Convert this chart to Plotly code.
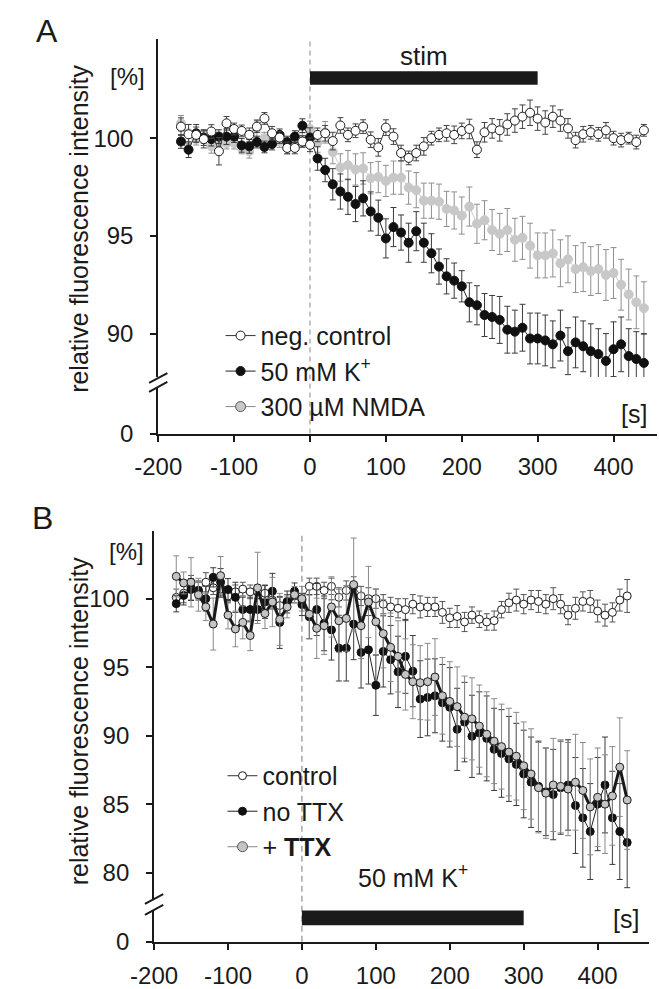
import numpy as np
import plotly.graph_objects as go

# time grid (s), same for every series
t = list(range(-170, 450, 10))

# ---- panel A: relative fluorescence [%]
a_ctrl = [100.59, 100.2, 100.17, 99.95, 100.34, 99.33, 100.76, 100.47, 100.37, 100.17, 100.59, 101.01, 100.25, 100.03, 99.5, 99.5, 99.83,
          99.66, 100.17, 100.25, 99.85, 100.65, 100.17, 100.38, 100.59, 99.92, 99.53, 100.54, 100.08, 99.24, 98.99, 99.24, 99.58, 100.0,
          100.17, 100.25, 100.17, 100.37, 100.47, 99.41, 100.3, 100.5, 100.4, 100.7, 100.9, 101.1, 101.3, 101.0, 100.8, 101.1, 100.9,
          100.5, 99.9, 100.2, 100.3, 100.2, 100.4, 100.0, 99.9, 100.0, 99.8, 100.4]
a_ctrl_err = [0.45, 0.5, 0.4, 0.45, 0.35, 0.7, 0.35, 0.3, 0.3, 0.35, 0.3, 0.3, 0.35, 0.3, 0.3, 0.3, 0.3,
              0.35, 0.35, 0.4, 0.45, 0.4, 0.35, 0.35, 0.35, 0.4, 0.45, 0.4, 0.4, 0.4, 0.35, 0.4, 0.45, 0.35, 0.35, 0.4, 0.45,
              0.4, 0.5, 0.4, 0.5, 0.5, 0.55, 0.55, 0.6, 0.6, 0.65, 0.6, 0.6, 0.55, 0.55, 0.5, 0.4, 0.4, 0.35, 0.35, 0.4,
              0.35, 0.35, 0.3, 0.35, 0.3]
a_k = [99.83, 99.41, 100.25, 100.03, 99.95, 100.08, 100.08, 100.08, 99.63, 99.58, 99.8, 99.55, 99.7, 100.17, 99.8, 100.08, 100.64,
       100.03, 98.96, 98.37, 97.64, 97.27, 97.0, 96.63, 96.92, 96.25, 95.93, 94.87, 95.45, 95.17, 94.65, 95.24, 94.65, 94.11,
       93.43, 92.93, 92.71, 92.42, 91.6, 91.45, 90.95, 90.85, 90.7, 90.2, 90.1, 90.3, 89.75, 89.75, 89.65, 89.45, 89.9,
       89.1, 89.55, 89.35, 89.1, 88.95, 88.6, 89.2, 89.45, 88.85, 88.7, 88.5]
a_k_err = [0.35, 0.4, 0.45, 0.4, 0.35, 0.35, 0.4, 0.3, 0.35, 0.35, 0.3, 0.3, 0.3, 0.3, 0.3, 0.3, 0.35,
           0.5, 0.6, 0.6, 0.8, 0.9, 0.9, 0.9, 0.9, 1.0, 0.9, 1.0, 1.0, 0.9, 1.0, 1.0, 1.0, 1.0, 0.9, 0.9, 0.9,
           0.8, 1.0, 1.0, 1.1, 1.1, 1.2, 1.2, 1.1, 1.2, 1.3, 1.3, 1.3, 1.2, 1.3, 1.2, 1.3, 1.3, 1.4, 1.3, 1.4,
           1.4, 1.4, 1.4, 1.4, 1.5]
a_nmda = [100.76, 100.25, 100.0, 100.03, 99.58, 99.66, 99.75, 99.75, 99.5, 99.33, 100.5, 100.0, 99.83, 99.83, 99.5, 99.7, 99.92,
          100.47, 99.78, 100.3, 99.29, 98.5, 98.62, 98.4, 98.45, 97.95, 98.01, 97.81, 97.98, 97.98, 97.47, 97.34, 96.8, 96.8,
          96.75, 96.38, 96.3, 96.04, 96.5, 95.62, 95.8, 95.3, 95.1, 95.3, 94.8, 94.9, 94.5, 94.0, 94.0, 94.1, 93.6,
          93.8, 93.3, 93.4, 93.2, 93.3, 93.0, 93.1, 92.5, 92.0, 91.6, 91.3]
a_nmda_err = [0.4, 0.45, 0.35, 0.3, 0.35, 0.35, 0.3, 0.3, 0.3, 0.35, 0.45, 0.3, 0.3, 0.3, 0.3, 0.3, 0.35,
              0.4, 0.5, 0.55, 0.6, 0.7, 0.75, 0.8, 0.8, 0.8, 0.8, 0.8, 0.85, 0.85, 0.85, 0.9, 0.9, 0.9, 0.9, 0.9, 0.95,
              0.95, 1.0, 1.0, 1.0, 1.05, 1.05, 1.1, 1.1, 1.1, 1.15, 1.15, 1.15, 1.2, 1.2, 1.2, 1.2, 1.25, 1.25, 1.25, 1.3,
              1.3, 1.3, 1.3, 1.35, 1.35]

# ---- panel B
b_ctrl = [100.1, 100.4, 100.8, 100.6, 101.2, 100.8, 100.7, 100.2, 100.5, 100.7, 100.5, 100.5, 100.4, 99.9, 99.5, 99.8, 100.2,
          99.9, 100.9, 100.9, 100.6, 100.9, 100.1, 100.6, 100.9, 100.2, 100.0, 100.0, 99.6, 99.4, 99.3, 99.2, 99.6, 99.4,
          99.4, 99.4, 99.0, 98.6, 98.7, 98.3, 98.8, 98.5, 98.3, 98.4, 99.2, 99.7, 99.9, 99.6, 99.9, 99.8, 99.6,
          100.0, 99.6, 98.8, 99.3, 99.8, 99.8, 99.1, 98.8, 99.0, 99.9, 100.2]
b_ctrl_err = [0.6, 0.7, 0.9, 0.6, 0.7, 0.5, 0.6, 0.5, 0.5, 0.5, 0.5, 0.5, 0.6, 0.5, 0.6, 0.5, 0.5,
              0.5, 0.6, 0.6, 0.6, 0.6, 0.7, 0.7, 0.7, 0.7, 0.8, 0.7, 0.7, 0.7, 0.7, 0.8, 0.7, 0.8, 0.7, 0.7, 0.8,
              0.7, 0.8, 0.7, 0.6, 0.6, 0.6, 0.7, 0.6, 0.7, 0.8, 0.7, 0.7, 0.8, 0.7, 0.8, 0.7, 0.7, 0.8, 0.7, 0.8,
              0.8, 0.8, 0.7, 0.8, 1.2]
b_nottx = [99.64, 100.24, 100.67, 100.6, 100.0, 101.56, 101.2, 100.67, 100.1, 99.21, 99.21, 99.21, 99.76, 100.55, 98.27, 99.76, 100.55,
           99.57, 98.68, 99.21, 98.2, 97.72, 96.39, 96.39, 98.15, 96.08, 96.27, 93.68, 96.15, 95.55, 94.66, 95.79, 94.71, 92.67,
           92.79, 92.91, 92.4, 92.07, 90.46, 90.99, 89.95, 90.2, 89.8, 89.0, 88.7, 88.3, 87.9, 87.2, 86.6, 86.3, 85.9,
           85.7, 86.2, 86.4, 84.9, 84.0, 83.0, 85.0, 86.4, 84.0, 83.0, 82.2]
b_nottx_err = [0.6, 0.7, 0.8, 0.7, 0.9, 0.7, 1.0, 0.8, 1.1, 0.9, 0.9, 0.8, 1.2, 1.3, 1.9, 0.8, 0.6,
               0.8, 1.6, 1.9, 2.0, 2.2, 2.4, 2.4, 2.6, 2.6, 2.5, 2.2, 2.6, 2.5, 2.6, 2.7, 2.6, 2.8, 2.8, 2.7, 2.8,
               2.9, 3.0, 2.9, 3.0, 3.0, 3.1, 3.0, 3.2, 3.1, 3.0, 3.2, 3.3, 3.3, 3.2, 3.3, 3.4, 3.3, 3.5, 3.6, 3.5,
               3.4, 3.5, 3.4, 3.5, 3.3]
b_ttx = [101.63, 101.15, 101.2, 100.29, 99.4, 98.15, 101.68, 98.8, 97.79, 98.27, 97.31, 100.79, 98.92, 99.76, 98.49, 99.4, 100.29,
         100.0, 98.87, 97.84, 98.03, 99.4, 98.39, 98.56, 101.03, 98.03, 99.76, 98.32, 97.45, 96.45, 95.79, 94.47, 93.94, 93.87,
         93.94, 94.28, 92.91, 92.5, 92.12, 91.35, 91.23, 90.7, 90.1, 89.6, 89.2, 88.8, 88.5, 87.8, 87.2, 86.2, 85.8,
         86.4, 86.3, 86.1, 86.6, 86.0, 84.8, 85.5, 85.0, 85.6, 87.7, 85.3]
b_ttx_err = [1.5, 0.8, 1.8, 1.2, 1.0, 1.9, 1.4, 1.0, 1.3, 1.2, 1.1, 2.6, 1.1, 1.8, 1.9, 0.8, 0.6,
             0.9, 1.8, 2.2, 2.1, 2.2, 2.3, 2.4, 3.4, 2.4, 2.6, 2.4, 2.5, 2.5, 2.6, 2.6, 2.7, 2.7, 2.8, 2.8, 2.8,
             2.9, 2.9, 3.0, 3.0, 3.0, 3.1, 3.1, 3.1, 3.2, 3.2, 3.2, 3.3, 3.3, 3.3, 3.4, 3.4, 3.4, 3.5, 3.5, 3.5,
             3.6, 3.6, 3.6, 3.6, 3.6]

x_ticks = [-200, -100, 0, 100, 200, 300, 400]
x_labels = ["-200", "-100", "0", "100", "200", "300", "400"]
stim_start, stim_end = 0, 300

W, H = 659, 989
FONT = "Liberation Sans, Arial, sans-serif"
INK = "#1a1a1a"


def px(x):
    return x / W


def py(y):
    return 1 - y / H


def series(x, y, err, name, fill, edge, line_col, line_w, size, err_col, xa, ya, leg, rank, show=True):
    return go.Scatter(
        x=x, y=y, name=name, mode="lines+markers", xaxis=xa, yaxis=ya, legend=leg,
        legendgroup=leg + str(rank), legendrank=rank, showlegend=show,
        line=dict(color=line_col, width=line_w),
        marker=dict(size=size, color=fill, line=dict(color=edge, width=1)),
        error_y=dict(type="data", array=err, visible=True, color=err_col, thickness=1, width=3),
    )


def legend_only(name, fill, edge, line_col, size, leg, rank):
    # entry for the legend box only (thin line like the original key)
    return go.Scatter(x=[None], y=[None], name=name, mode="lines+markers", legend=leg,
                      legendgroup=leg + str(rank), legendrank=rank, xaxis="x2", yaxis="y3",
                      line=dict(color=line_col, width=1), marker=dict(size=size, color=fill, line=dict(color=edge, width=1)))


fig = go.Figure()

# panel A (gray drawn first, open circles on top)
fig.add_trace(series(t, a_nmda, a_nmda_err, "300 µM NMDA", "#c8c8c8", "#c8c8c8", "#cccccc", 1, 9, "#8f8f8f",
                     "x", "y", "legend", 3, show=False))
fig.add_trace(legend_only("300 µM NMDA", "#c8c8c8", "#555555", "#888888", 10, "legend", 3))
fig.add_trace(series(t, a_k, a_k_err, "50 mM K<sup>+</sup>", "#111111", "#111111", "#222222", 1, 9, "#3a3a3a",
                     "x", "y", "legend", 2))
fig.add_trace(series(t, a_ctrl, a_ctrl_err, "neg. control", "white", INK, "#333333", 1, 9, "#444444",
                     "x", "y", "legend", 1))

# panel B
fig.add_trace(series(t, b_ctrl, b_ctrl_err, "control", "white", INK, "#333333", 1, 8, "#555555",
                     "x2", "y3", "legend2", 1))
fig.add_trace(series(t, b_nottx, b_nottx_err, "no TTX", "#111111", "#111111", "#222222", 1, 8, "#3a3a3a",
                     "x2", "y3", "legend2", 2))
fig.add_trace(series(t, b_ttx, b_ttx_err, "+ <b>TTX</b>", "#c4c4c4", INK, "#1a1a1a", 3, 8, "#8a8a8a",
                     "x2", "y3", "legend2", 3, show=False))
fig.add_trace(legend_only("+ <b>TTX</b>", "#c4c4c4", "#555555", "#888888", 10, "legend2", 3))

# empty traces so the lower (0) axis segments exist as subplots
fig.add_trace(go.Scatter(x=[], y=[], xaxis="x", yaxis="y2", showlegend=False, hoverinfo="skip"))
fig.add_trace(go.Scatter(x=[], y=[], xaxis="x2", yaxis="y4", showlegend=False, hoverinfo="skip"))

ax = dict(showline=True, linecolor=INK, linewidth=2, ticks="outside", tickcolor=INK, ticklen=6, tickwidth=2,
          showgrid=False, zeroline=False, tickfont=dict(family=FONT, size=24, color=INK))
leg_font = dict(family=FONT, size=25, color=INK)

fig.update_layout(
    width=W, height=H, margin=dict(l=0, r=0, t=0, b=0),
    paper_bgcolor="white", plot_bgcolor="white",
    font=dict(family=FONT, color=INK),
    xaxis=dict(ax, domain=[px(139.3), px(656.7)], range=[-200, 457], anchor="y2",
               tickvals=x_ticks, ticktext=x_labels, ticklabelstandoff=5),
    yaxis=dict(ax, domain=[py(382), py(40)], range=[87.78, 105.05], anchor="x", tickvals=[90, 95, 100], ticklabelstandoff=12),
    yaxis2=dict(ax, domain=[py(439.3), py(393)], range=[0, 2.34], anchor="x", tickvals=[0], ticklabelstandoff=12),
    xaxis2=dict(ax, domain=[px(135), px(649)], range=[-200, 470], anchor="y4",
                tickvals=x_ticks, ticktext=x_labels, ticklabelstandoff=5),
    yaxis3=dict(ax, domain=[py(912), py(537.7)], range=[78.0, 104.97], anchor="x2", tickvals=[80, 85, 90, 95, 100], ticklabelstandoff=12),
    yaxis4=dict(ax, domain=[py(954.3), py(922)], range=[0, 1], anchor="x2", tickvals=[0], ticklabelstandoff=12),
    showlegend=True,
    legend=dict(x=px(204), y=py(317), xanchor="left", yanchor="top", bgcolor="rgba(0,0,0,0)",
                font=leg_font, tracegroupgap=2, traceorder="normal"),
    legend2=dict(x=px(206), y=py(763), xanchor="left", yanchor="top", bgcolor="rgba(0,0,0,0)",
                 font=leg_font, tracegroupgap=2, traceorder="normal"),
)

# stimulus bars, dashed onset lines, axis breaks
fig.add_shape(type="rect", xref="x", yref="y", x0=stim_start, x1=stim_end, y0=102.73, y1=103.43,
              fillcolor=INK, line=dict(width=0))
fig.add_shape(type="rect", xref="x2", yref="y4", x0=stim_start, x1=stim_end, y0=0.514, y1=0.978,
              fillcolor=INK, line=dict(width=0))
fig.add_shape(type="line", xref="x", yref="paper", x0=0, x1=0, y0=py(439.3), y1=py(40),
              line=dict(color="#888888", width=1, dash="5px,4px"), layer="below")
fig.add_shape(type="line", xref="x2", yref="paper", x0=0, x1=0, y0=py(954.3), y1=py(541.7),
              line=dict(color="#999999", width=1.3, dash="6px,4px"), layer="below")
for x0, yc in [(139.3, 383), (139.3, 392), (135, 911), (135, 922)]:
    fig.add_shape(type="line", xref="paper", yref="paper", x0=px(x0 - 9.5), x1=px(x0 + 9.5),
                  y0=py(yc + 5), y1=py(yc - 5), line=dict(color=INK, width=2))

notes = [
    ("A", 24, 31, 32), ("B", 19, 525, 32),
    ("[%]", 107, 78, 24), ("[%]", 106, 559, 24),
    ("[s]", 633, 420, 25), ("[s]", 625, 931, 25),
]
for txt, x, y, s in notes:
    fig.add_annotation(text=txt, x=px(x), y=py(y), xref="paper", yref="paper", showarrow=False,
                       font=dict(family=FONT, size=s, color=INK), xanchor="center", yanchor="middle")

for yc in [232, 731]:
    fig.add_annotation(text="relative fluorescence intensity", x=px(57), y=py(yc), xref="paper", yref="paper",
                       showarrow=False, textangle=-90, xanchor="center", yanchor="middle",
                       font=dict(family=FONT, size=25, color=INK))

fig.add_annotation(text="stim", x=150, y=104.19, xref="x", yref="y", showarrow=False,
                   font=dict(family=FONT, size=26, color=INK))
fig.add_annotation(text="50 mM K<sup>+</sup>", x=150, y=py(906), xref="x2", yref="paper", showarrow=False,
                   font=dict(family=FONT, size=25, color=INK))

# drop the default page margin so the 659x989 figure fills the window exactly
fig.write_html("out.html", config={"displayModeBar": False},
               post_script="document.body.style.margin='0';document.body.style.overflow='hidden';")
